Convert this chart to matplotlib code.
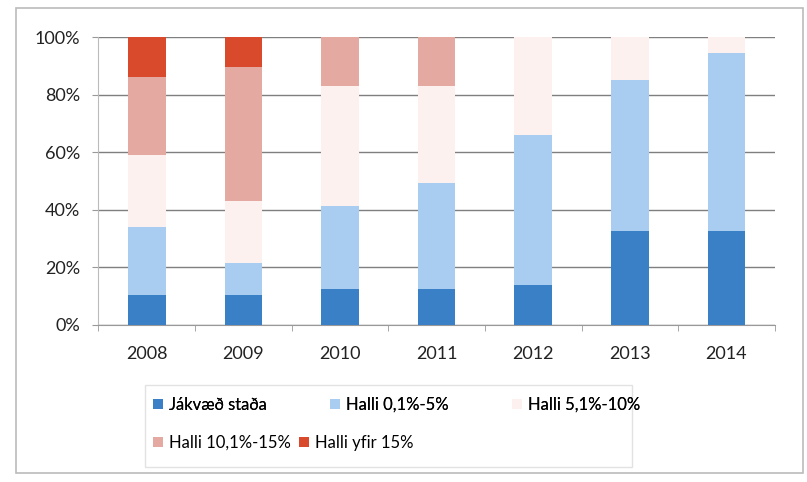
import numpy as np
import matplotlib.pyplot as plt
from matplotlib.patches import Rectangle

plt.rcParams['font.family'] = ['Lato', 'DejaVu Sans']

ar = ['2008', '2009', '2010', '2011', '2012', '2013', '2014']
flokkar = ['Jákvæð staða', 'Halli 0,1%-5%', 'Halli 5,1%-10%',
           'Halli 10,1%-15%', 'Halli yfir 15%']
litir = ['#3a80c6', '#a8cdf0', '#fdf1f0', '#e4aaa1', '#d94a2c']

# hlutfall hvers flokks (%) lesið af myndinni
jakvaed = [10.4, 10.4, 12.5, 12.5, 14.0, 32.7, 32.7]
halli_0_5 = [23.6, 11.1, 28.8, 36.8, 52.0, 52.3, 61.8]
halli_5_10 = [25.0, 21.5, 41.7, 33.7, 34.0, 15.0, 5.5]
halli_10_15 = [27.0, 46.6, 17.0, 17.0, 0.0, 0.0, 0.0]
halli_yfir_15 = [14.0, 10.4, 0.0, 0.0, 0.0, 0.0, 0.0]
gildi = [jakvaed, halli_0_5, halli_5_10, halli_10_15, halli_yfir_15]

fig = plt.figure(figsize=(8.07, 4.82), dpi=100)
ax = fig.add_axes([0.122, 0.326, 0.838, 0.597])

x = np.arange(len(ar))
botn = np.zeros(len(ar))
handles = []
for nafn, g, lit in zip(flokkar, gildi, litir):
    h = ax.bar(x, g, 0.39, bottom=botn, color=lit, label=nafn, zorder=3)
    handles.append(h)
    botn += np.array(g)

ax.set_xlim(-0.5, len(ar) - 0.5)
ax.set_ylim(0, 100)
ax.set_yticks(range(0, 101, 20))
ax.set_yticklabels(['{}%'.format(v) for v in range(0, 101, 20)], fontsize=13,
                   color='#222222')
ax.set_xticks(x)
ax.set_xticklabels(ar, fontsize=13, color='#222222')
ax.set_xticks(np.arange(-0.5, len(ar)), minor=True)
ax.tick_params(axis='x', which='major', length=0, pad=15)
ax.tick_params(axis='x', which='minor', length=4, color='#999999')
ax.tick_params(axis='y', length=4, color='#999999', pad=9)
ax.grid(axis='y', color='#7f7f7f', linewidth=1.0, zorder=0)
for s in ['top', 'right']:
    ax.spines[s].set_visible(False)
ax.spines['left'].set_color('#bbbbbb')
ax.spines['bottom'].set_color('#999999')

# þjóðsaga í tveimur línum eins og á myndinni
kw = dict(loc='center left', fontsize=12, frameon=False, handlelength=0.6,
          handleheight=0.6, handletextpad=0.35, borderaxespad=0, borderpad=0)
leg1 = fig.legend(handles[:3], flokkar[:3], ncol=3, columnspacing=3.8,
                  bbox_to_anchor=(153 / 807, 1 - 405 / 482), **kw)
fig.add_artist(leg1)
fig.legend(handles[3:], flokkar[3:], ncol=2, columnspacing=0.5,
           bbox_to_anchor=(153 / 807, 1 - 443 / 482), **kw)

fig.patches.append(Rectangle((145 / 807, 1 - 467 / 482), 487 / 807, 82 / 482,
                             transform=fig.transFigure, fill=False,
                             edgecolor='#e2e2e2', linewidth=1.0))
fig.patches.append(Rectangle((16 / 807, 1 - 473 / 482), 787 / 807, 465 / 482,
                             transform=fig.transFigure, fill=False,
                             edgecolor='#bbbbbb', linewidth=1.2))

fig.savefig('out.png', dpi=100)
